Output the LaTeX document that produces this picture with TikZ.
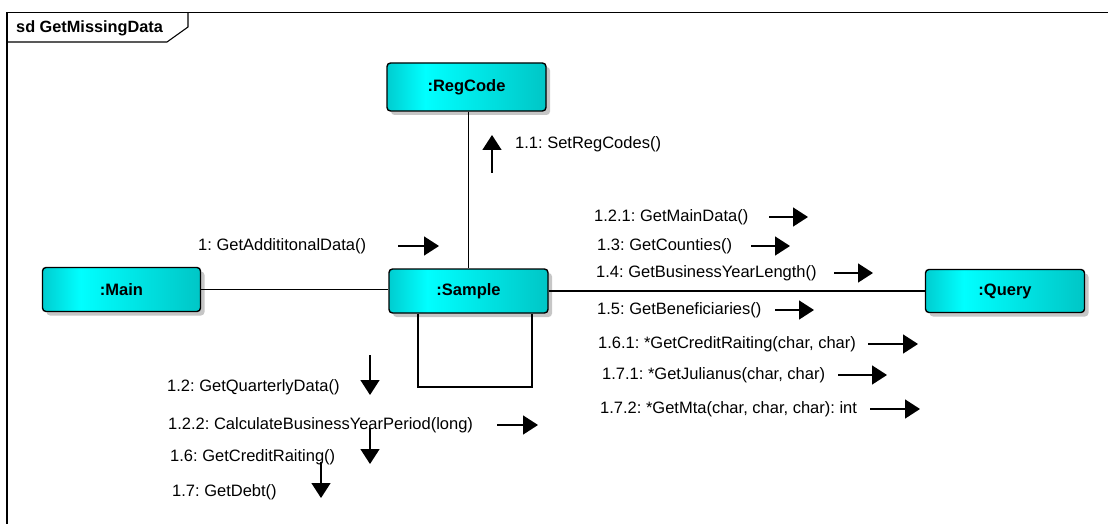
\documentclass[tikz,border=0pt]{standalone}
\usepackage{fontspec}
\setmainfont{Liberation Sans}
\usetikzlibrary{arrows.meta,shadows}
\frenchspacing

% cyan lifeline fill: medium at the left edge, bright near the first quarter, darker to the right
\definecolor{cyLeft}{RGB}{0,205,208}
\definecolor{cyBright}{RGB}{0,255,255}
\definecolor{cyRight}{RGB}{0,198,198}
\pgfdeclarehorizontalshading{cyanbar}{100bp}{%
  color(0bp)=(cyLeft); color(25bp)=(cyLeft); color(37bp)=(cyBright);
  color(75bp)=(cyRight); color(100bp)=(cyRight)}

\tikzset{
  obj/.style={draw=black, line width=1.4pt, rounded corners=3.5pt,
    shading=cyanbar, inner sep=0pt,
    drop shadow={shadow xshift=4pt, shadow yshift=-4pt, fill=black!28, opacity=0.8},
    font=\fontsize{16.5}{18}\selectfont\bfseries},
  link/.style={draw=black, line width=1.3pt},
  msg/.style={line width=1.5pt, -{Triangle[length=15pt,width=19pt]}},
  lbl/.style={anchor=west, inner sep=0pt, font=\fontsize{16.5}{19}\selectfont},
  frameline/.style={draw=black, line width=1.1pt}
}

\begin{document}
\begin{tikzpicture}[x=1pt,y=-1pt]
\useasboundingbox (0,0) rectangle (1109,524);

% diagram frame and its name tab
\draw[frameline] (7,524) -- (7,12.5) -- (1108,12.5);
\draw[frameline] (7,42) -- (167,42) -- (188,27) -- (188,12.5);
\node[anchor=west, inner sep=0pt, font=\fontsize{16.3}{18}\selectfont\bfseries] (title) at (16,28) {sd GetMissingData};

% lifelines
\node[obj, minimum width=159pt, minimum height=48pt] (regcode) at (466.5,87) {:RegCode};
\node[obj, minimum width=158pt, minimum height=44pt] (main) at (121.5,289.5) {:Main};
\node[obj, minimum width=159pt, minimum height=44pt] (sample) at (468.5,291) {:Sample};
\node[obj, minimum width=159pt, minimum height=43pt] (query) at (1005,291) {:Query};

% links between lifelines
\draw[link] (regcode.south -| sample.north) -- (sample.north);
\draw[link] (main.east) -- (sample.west |- main.east);
\draw[link] (sample.east |- query.west) -- (query.west);
\draw[link] (sample.south -| 418,0) -- (418,387) -- (532,387) -- (sample.south -| 532,0);

% messages Main -> Sample
\node[lbl] (m1) at (198,246) {1: GetAddititonalData()};
\draw[msg] (398,246) -- (439,246);

% messages Sample -> RegCode
\node[lbl] (m11) at (515,144) {1.1: SetRegCodes()};
\draw[msg] (492,173) -- (492,135);

% messages Sample -> Query
\node[lbl] (m121) at (594,217) {1.2.1: GetMainData()};
\draw[msg] (769,217) -- (808,217);
\node[lbl] (m13) at (597,246) {1.3: GetCounties()};
\draw[msg] (751,246) -- (790,246);
\node[lbl] (m14) at (596,273) {1.4: GetBusinessYearLength()};
\draw[msg] (834,273) -- (873,273);
\node[lbl] (m15) at (597,310) {1.5: GetBeneficiaries()};
\draw[msg] (775,310) -- (814,310);
\node[lbl] (m161) at (598,344) {1.6.1: *GetCreditRaiting(char, char)};
\draw[msg] (868,344) -- (918,344);
\node[lbl] (m171) at (602,375) {1.7.1: *GetJulianus(char, char)};
\draw[msg] (838,375) -- (887,375);
\node[lbl] (m172) at (600,409) {1.7.2: *GetMta(char, char, char): int};
\draw[msg] (870,409) -- (920,409);

% self messages on Sample
\node[lbl] (m12) at (167,387) {1.2: GetQuarterlyData()};
\draw[msg] (370,355) -- (370,395);
\node[lbl] (m122) at (168,425) {1.2.2: CalculateBusinessYearPeriod(long)};
\draw[msg] (497,425) -- (538,425);
\node[lbl] (m16) at (170,457) {1.6: GetCreditRaiting()};
\draw[msg] (370,428) -- (370,464);
\node[lbl] (m17) at (172,492) {1.7: GetDebt()};
\draw[msg] (321,462) -- (321,498);
\end{tikzpicture}
\end{document}
